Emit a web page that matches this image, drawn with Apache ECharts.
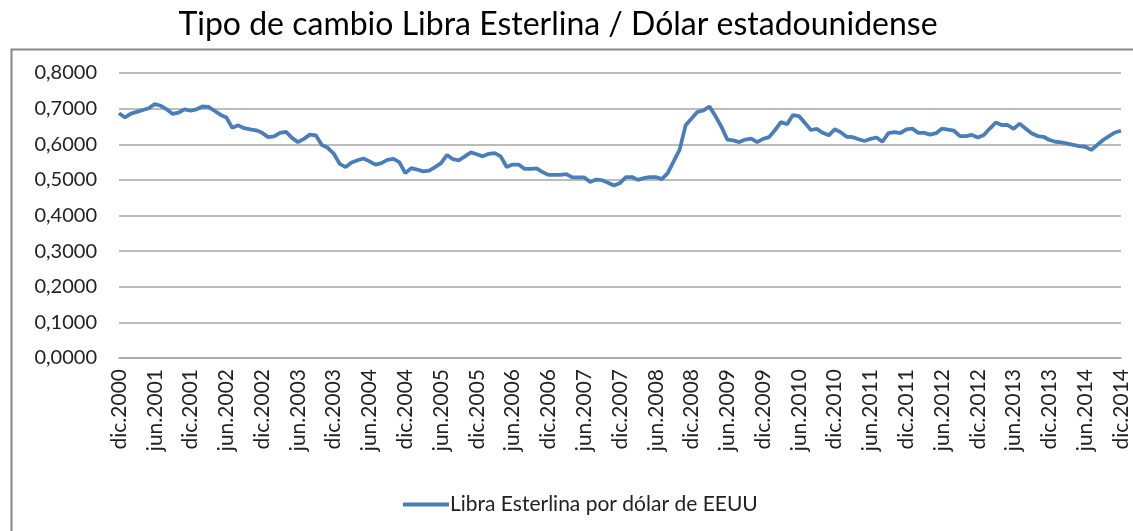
<!DOCTYPE html>
<html>
<head>
<meta charset="utf-8">
<script src="https://cdn.jsdelivr.net/npm/echarts@6/dist/echarts.min.js"></script>
<style>
  html, body { margin: 0; padding: 0; background: #fff; }
  #chart { width: 1133px; height: 531px; }
</style>
</head>
<body>
<div id="chart"></div>
<script>
// monthly, dic.2000 .. dic.2014
const years = [2000, 2001, 2002, 2003, 2004, 2005, 2006, 2007, 2008, 2009, 2010, 2011, 2012, 2013, 2014];
const monthNames = ['ene', 'feb', 'mar', 'abr', 'may', 'jun', 'jul', 'ago', 'sep', 'oct', 'nov', 'dic'];

const gbpPerUsd = [
  0.687, 0.675, 0.686, 0.691, 0.696, 0.701, 0.713, 0.708, 0.698, 0.685, 0.689, 0.698,
  0.694, 0.698, 0.706, 0.705, 0.694, 0.683, 0.675, 0.646, 0.653, 0.645, 0.642, 0.639,
  0.632, 0.620, 0.622, 0.632, 0.635, 0.618, 0.606, 0.615, 0.627, 0.625, 0.598, 0.590,
  0.574, 0.545, 0.536, 0.549, 0.555, 0.560, 0.552, 0.543, 0.547, 0.556, 0.559, 0.550,
  0.519, 0.533, 0.529, 0.524, 0.526, 0.536, 0.547, 0.570, 0.558, 0.555, 0.566, 0.577,
  0.572, 0.566, 0.573, 0.575, 0.566, 0.536, 0.543, 0.543, 0.531, 0.531, 0.532, 0.522,
  0.514, 0.514, 0.514, 0.516, 0.507, 0.507, 0.507, 0.494, 0.501, 0.499, 0.492, 0.484,
  0.491, 0.508, 0.508, 0.500, 0.505, 0.508, 0.508, 0.502, 0.519, 0.552, 0.585, 0.653,
  0.672, 0.691, 0.695, 0.706, 0.679, 0.649, 0.613, 0.611, 0.606, 0.613, 0.616, 0.606,
  0.615, 0.620, 0.640, 0.662, 0.656, 0.682, 0.679, 0.660, 0.640, 0.643, 0.632, 0.625,
  0.642, 0.634, 0.621, 0.620, 0.614, 0.609, 0.615, 0.619, 0.607, 0.631, 0.634, 0.631,
  0.642, 0.644, 0.632, 0.632, 0.627, 0.631, 0.644, 0.641, 0.638, 0.623, 0.623, 0.626,
  0.619, 0.626, 0.644, 0.661, 0.654, 0.654, 0.643, 0.658, 0.644, 0.631, 0.623, 0.621,
  0.612, 0.607, 0.605, 0.602, 0.598, 0.595, 0.593, 0.584, 0.598, 0.612, 0.623, 0.633,
  0.638
];

// category labels: "dic.2000", "ene.2001", ...
const months = [];
for (let i = 0; i < gbpPerUsd.length; i++) {
  const m = (11 + i) % 12;
  const y = years[0] + Math.floor((11 + i) / 12);
  months.push(monthNames[m] + '.' + y);
}

const chart = echarts.init(document.getElementById('chart'), null, { renderer: 'canvas' });
const font = 'Lato, "Open Sans", sans-serif';

chart.setOption({
  animation: false,
  title: {
    text: 'Tipo de cambio Libra Esterlina / Dólar estadounidense',
    left: 553,
    textAlign: 'center',
    top: 4,
    textStyle: { fontFamily: font, fontSize: 32, fontWeight: 'normal', color: '#000' },
  },
  graphic: [{
    type: 'rect',
    left: 9, top: 47,
    shape: { width: 1140, height: 520 },
    style: { fill: null, stroke: '#868686', lineWidth: 2 },
    silent: true,
  }],
  legend: {
    left: 398,
    top: 489,
    icon: 'rect',
    itemWidth: 46,
    itemHeight: 4,
    itemGap: 0,
    textStyle: { fontFamily: font, fontSize: 21, color: '#222', padding: [0, 0, 0, -4] },
    data: ['Libra Esterlina por dólar de EEUU'],
  },
  grid: {
    left: 119,
    right: 12,
    top: 73,
    bottom: 173,
  },
  xAxis: {
    type: 'category',
    boundaryGap: false,
    data: months,
    axisLine: { show: true, lineStyle: { color: '#a6a6a6', width: 1.5 } },
    axisTick: { show: false },
    axisLabel: {
      interval: 5,
      rotate: 90,
      margin: 11,
      fontFamily: font,
      fontSize: 21,
      color: '#222',
    },
  },
  yAxis: {
    type: 'value',
    min: 0,
    max: 0.8,
    interval: 0.1,
    axisLine: { show: false },
    axisTick: { show: false },
    splitLine: { lineStyle: { color: '#a6a6a6', width: 1.5 } },
    axisLabel: {
      margin: 22,
      fontFamily: font,
      fontSize: 20,
      color: '#222',
      formatter: v => v.toFixed(4).replace('.', ','),
    },
  },
  series: [{
    name: 'Libra Esterlina por dólar de EEUU',
    type: 'line',
    data: gbpPerUsd,
    showSymbol: false,
    color: '#4a7ebb',
    lineStyle: { color: '#4a7ebb', width: 3.8 },
  }],
});
</script>
</body>
</html>
